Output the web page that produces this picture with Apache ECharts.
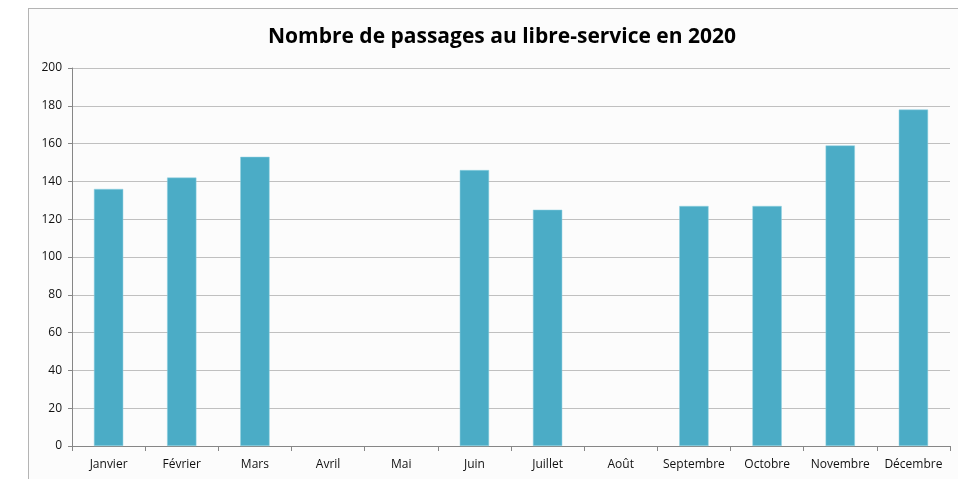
<!DOCTYPE html>
<html>
<head>
<meta charset="utf-8">
<script src="https://cdn.jsdelivr.net/npm/echarts@6/dist/echarts.min.js"></script>
<style>
  html, body { margin:0; padding:0; background:#fff; }
  #frame { position:absolute; left:28px; top:8px; width:960px; height:500px; border:1px solid #b4b4b4; background:#fcfcfc; }
  #main { position:absolute; left:0; top:0; width:958px; height:479px; }
</style>
</head>
<body>
<div id="frame"></div>
<div id="main"></div>
<script>
  var mois = ['Janvier','Février','Mars','Avril','Mai','Juin','Juillet','Août','Septembre','Octobre','Novembre','Décembre'];
  var passages = [136, 142, 153, null, null, 146, 125, null, 127, 127, 159, 178];
  var titre = 'Nombre de passages au libre-service en 2020';

  var chart = echarts.init(document.getElementById('main'));
  var option = {
    backgroundColor: 'transparent',
    animation: false,
    title: {
      text: titre,
      left: 497,
      textAlign: 'center',
      top: 22,
      textStyle: { fontFamily: 'Open Sans', fontWeight: 'bold', fontSize: 21, color: '#000' }
    },
    grid: { left: 72, right: 8, top: 68, bottom: 33 },
    xAxis: {
      type: 'category',
      data: mois,
      axisLine: { lineStyle: { color: '#868686' } },
      axisTick: { show: true, interval: 0, length: 5, lineStyle: { color: '#868686' } },
      axisLabel: { interval: 0, color: '#111', fontFamily: 'Open Sans', fontSize: 12, margin: 13 }
    },
    yAxis: {
      type: 'value',
      min: 0, max: 200, interval: 20,
      axisLine: { show: true, lineStyle: { color: '#868686' } },
      axisTick: { show: true, length: 4, lineStyle: { color: '#868686' } },
      axisLabel: { color: '#111', fontFamily: 'Open Sans', fontSize: 12, margin: 10 },
      splitLine: { lineStyle: { color: '#c0c0c0' } }
    },
    series: [{
      type: 'bar',
      data: passages,
      barWidth: '40%',
      itemStyle: { color: '#4BACC6', borderColor: '#8fd0e0', borderWidth: 0.5 }
    }]
  };
  chart.setOption(option);
</script>
</body>
</html>
